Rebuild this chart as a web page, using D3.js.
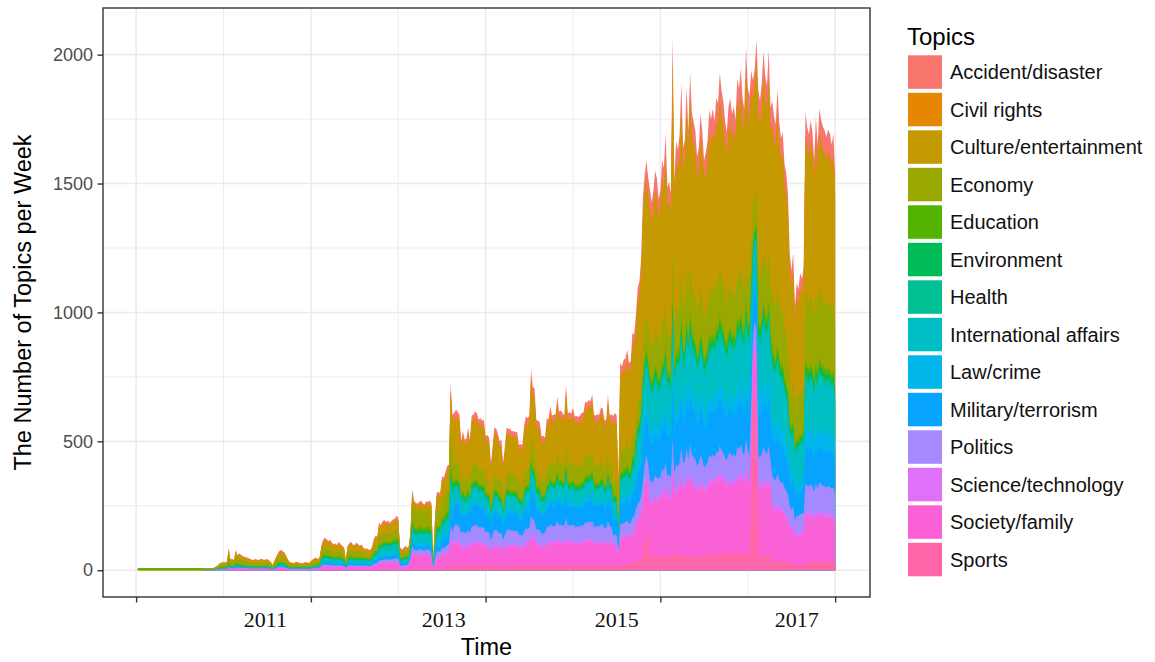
<!DOCTYPE html>
<html>
<head>
<meta charset="utf-8">
<script src="https://d3js.org/d3.v7.min.js"></script>
<style>
  html, body { margin: 0; padding: 0; background: #ffffff; }
  svg { display: block; font-family: "Liberation Sans", Arial, sans-serif; }
</style>
</head>
<body>
<svg id="chart" width="1155" height="662"></svg>
<script>
// ---- Topics (legend order; first topic is stacked on top) ----
const topics = [
  "Accident/disaster", "Civil rights", "Culture/entertainment", "Economy",
  "Education", "Environment", "Health", "International affairs",
  "Law/crime", "Military/terrorism", "Politics", "Science/technology",
  "Society/family", "Sports"
];
const topicColors = [
  "#F8766D", "#E58700", "#C49A00", "#99A800",
  "#53B400", "#00BC56", "#00C094", "#00BFC4",
  "#00B6EB", "#06A4FF", "#A58AFF", "#DF70F8",
  "#FB61D7", "#FF66A8"
];

// ---- Weekly number of topics (all topics together), weeks 1..400 ----
const weeklyTotal = [
  8,8,8,8,8,8,8,8,8,8, 8,8,8,8,8,8,8,8,8,8, 8,8,8,8,8,8,8,8,8,8,
  8,8,8,8,8,8,8,8,8,8, 8,8,8,8,
  12,15,20,28,30,
  32,30,34,85,42,45,40,78,58,66,
  60,55,52,50,48,45,42,40,44,42,
  40,43,45,40,42,44,38,34,20,35,
  50,65,75,78,74,68,55,40,32,30,
  28,31,33,30,28,26,30,32,30,28,
  35,42,46,48,44,50,95,118,125,120,
  112,118,108,100,105,98,110,102,95,88,
  40,95,105,110,100,98,108,102,95,100,
  88,82,85,80,78,90,120,135,130,185,
  175,190,195,188,192,185,190,198,200,210,
  205,90,80,85,95,88,92,150,313,270,
  262,258,265,270,260,255,268,265,270,260,
  30,200,300,305,298,365,360,380,405,410,
  727,603,610,622,615,603,500,540,507,510,
  553,505,600,603,616,610,584,590,580,584,
  519,525,515,410,480,553,550,530,500,505,
  416,480,553,550,548,538,540,535,538,487,
  490,485,560,596,590,598,778,712,705,584,
  580,575,519,522,515,590,585,636,600,603,
  605,674,616,620,610,600,719,610,612,608,
  630,596,598,594,600,610,612,655,650,660,
  655,683,603,600,605,602,630,628,584,580,
  680,600,605,598,610,600,340,805,790,816,
  820,855,805,810,920,915,
  990,1095,1120,1211,1447,1530,1591,1524,1480,1428,1470,1550,1520,1440,
  1470,1590,1560,1694,1486,1505,1460,2077,1512,1667,
  1630,1690,1892,1640,1667,1873,1706,1930,1776,1740,
  1706,1603,1640,1772,1700,1590,1620,1667,1785,1750,
  1790,1740,1834,1810,1930,1860,1820,1745,1700,1800,
  1830,1770,1800,1745,1907,1870,1946,1834,1790,2027,
  1873,1840,1938,1900,1945,2058,1866,1820,1890,2012,
  1918,1880,2017,1793,1820,1762,1730,1866,1740,1676,
  1700,1578,1540,1462,1230,1164,1230,1021,1114,1090,
  1153,1130,1176,1776,1720,1690,1745,1700,1590,1758,
  1650,1790,1745,1720,1706,1680,1710,1693,1650,1693,
  1540
];

// ---- Share of each topic (percent) per 13-week block, blocks 0..30 ----
const blockWeeks = 13;
const shareAccident = [0,0,0, 5, 6,6,6,5, 5,5,5,5, 3,4, 4,4,4,5,4,4,4, 5, 5,5,5,5,5,5, 5, 5,5];
const shareCivil    = [0,0,0, 2, 3,3,4,4, 2,2,1,1, 1,1, 1,1,1,1,1,1,1, 1, .5,.5,.5,.5,.5,.5, .5, .5,.5];
const shareCulture  = [0,0,0, 15, 22,20,22,20, 22,22,20,19, 8,18, 28,29,27,29,28,28,29, 37, 34,33,32,33,34,33, 35, 33,33];
const shareEconomy  = [0,0,0, 30, 32,33,28,28, 22,22,18,17, 25,20, 11,10,12,11,11,12,11, 10, 9,10,10,10,9,10, 12, 15,15];
const shareEducation = [100,100,100, 20, 5,5,5,5, 4,4,4,4, 5,4, 2,2,2,2,2,2,2, 2, 1.3,1.3,1.3,1.3,1.3,1.3, 1.3, 1.2,1.2];
const shareEnvironment = [0,0,0, 3, 3,3,3,3, 3,3,3,3, 3,2, 1.5,1.5,1.5,1.5,1.5,1.5,1.5, 1.5, 1.2,1.2,1.2,1.2,1.2,1.2, 1.2, 1.2,1.2];
const shareHealth   = [0,0,0, 2, 2,2,2,2, 3,3,3,3, 3,3, 1.5,1.5,1.5,1.5,1.5,1.5,1.5, 1.5, 1.3,1.3,1.3,1.3,1.3,1.3, 1.3, 1.2,1.2];
const shareInternational = [0,0,0, 6, 7,8,9,10, 13,13,15,15, 12,11, 8,8,9,8,8,8,8, 8, 10,9,9,9.5,10,11, 11, 11,11];
const shareLaw      = [0,0,0, 2, 2,2,2,3, 3,3,4,4, 5,5, 3,3,3,3,3,3,3, 3, 3.5,3.5,3.5,3.5,3.5,4, 4, 4,4];
const shareMilitary = [0,0,0, 2, 3,3,3,3, 5,5,6,7, 5,8, 13,13,12,13,13,12,13, 10, 10,10,10,9.5,9,9, 8, 8,8];
const sharePolitics = [0,0,0, 2, 2,2,2,3, 4,4,5,6, 7,7, 10,10,10,9,10,10,10, 6, 5,5,5.5,5,5.5,6, 6, 6,6];
const shareScience  = [0,0,0, 1, 1,1,1,1, 1,1,1,1, 1,1, 2,2,2,2,2,2,2, 1, 1,1,1,1,1,1, 1, 1,1];
const shareSociety  = [0,0,0, 9, 11,11,12,12, 12,12,14,14, 20,14, 14,14,14,14,14,14,14, 13, 14,15,15.5,15.5,15,14, 11, 10,10];
const shareSports   = [0,0,0, 1, 1,1,1,1, 1,1,1,1, 2,2, 3,3,3,3,3,3,3, 3, 3.5,3.5,3,3.5,3.5,3, 2, 1.9,1.9];

// ---- Weeks with an unusual number of sports topics ----
const sportsPeakWeeks  = [291, 292, 293, 352, 353, 354, 355];
const sportsPeakValues = [110, 145, 120, 300, 640, 700, 620];

// ---- Axis labels ----
const xTickWeeks = [0, 100, 200, 300, 400];
const yearLabels = ["2011", "2013", "2015", "2017"];
const yearLabelWeeks = [74, 176, 275, 378];
const yTicks = [0, 500, 1000, 1500, 2000];

// ---- Build weekly table per topic ----
const shareTable = [
  shareAccident, shareCivil, shareCulture, shareEconomy, shareEducation,
  shareEnvironment, shareHealth, shareInternational, shareLaw, shareMilitary,
  sharePolitics, shareScience, shareSociety, shareSports
];
const nBlocks = shareAccident.length;
const sportsIdx = topics.indexOf("Sports");

const rows = weeklyTotal.map((total, i) => {
  const week = i + 1;
  const b = Math.min(Math.floor(week / blockWeeks), nBlocks - 1);
  const shares = shareTable.map(s => s[b]);
  const row = { week };
  const peak = sportsPeakWeeks.indexOf(week);
  if (peak >= 0) {
    const sportsVal = sportsPeakValues[peak];
    const restShare = d3.sum(shares) - shares[sportsIdx];
    topics.forEach((t, k) => {
      row[t] = k === sportsIdx ? sportsVal : (total - sportsVal) * shares[k] / restShare;
    });
  } else {
    const sum = d3.sum(shares);
    topics.forEach((t, k) => { row[t] = total * shares[k] / sum; });
  }
  return row;
});

// ---- Layout ----
const svg = d3.select("#chart");
const panel = { left: 103, right: 870, top: 8, bottom: 597 };

const wMin = 1, wMax = weeklyTotal.length;
const wPad = (wMax - wMin) * 0.05;
const x = d3.scaleLinear()
  .domain([wMin - wPad, wMax + wPad])
  .range([panel.left, panel.right]);

const yMax = d3.max(weeklyTotal);
const y = d3.scaleLinear()
  .domain([-yMax * 0.05, yMax * 1.05])
  .range([panel.bottom, panel.top]);

// panel background
svg.append("rect")
  .attr("x", panel.left).attr("y", panel.top)
  .attr("width", panel.right - panel.left).attr("height", panel.bottom - panel.top)
  .attr("fill", "#ffffff");

// grid lines
const gridColor = "#EBEBEB";
const xMinor = xTickWeeks.slice(0, -1).map((v, i) => (v + xTickWeeks[i + 1]) / 2);
const yMinor = yTicks.slice(0, -1).map((v, i) => (v + yTicks[i + 1]) / 2);
const grid = svg.append("g");
grid.selectAll(".xminor").data(xMinor).join("line")
  .attr("x1", d => x(d)).attr("x2", d => x(d))
  .attr("y1", panel.top).attr("y2", panel.bottom)
  .attr("stroke", gridColor).attr("stroke-width", 0.9);
grid.selectAll(".yminor").data(yMinor).join("line")
  .attr("y1", d => y(d)).attr("y2", d => y(d))
  .attr("x1", panel.left).attr("x2", panel.right)
  .attr("stroke", gridColor).attr("stroke-width", 0.9);
grid.selectAll(".xmajor").data(xTickWeeks).join("line")
  .attr("x1", d => x(d)).attr("x2", d => x(d))
  .attr("y1", panel.top).attr("y2", panel.bottom)
  .attr("stroke", gridColor).attr("stroke-width", 1.6);
grid.selectAll(".ymajor").data(yTicks).join("line")
  .attr("y1", d => y(d)).attr("y2", d => y(d))
  .attr("x1", panel.left).attr("x2", panel.right)
  .attr("stroke", gridColor).attr("stroke-width", 1.6);

// stacked areas (Sports at the bottom, Accident/disaster on top)
const stackKeys = topics.slice().reverse();
const series = d3.stack().keys(stackKeys)(rows);
const colorOf = d3.scaleOrdinal().domain(topics).range(topicColors);

svg.append("clipPath").attr("id", "panel-clip")
  .append("rect")
  .attr("x", panel.left).attr("y", panel.top)
  .attr("width", panel.right - panel.left).attr("height", panel.bottom - panel.top);

// Each layer is filled from the zero line up to its cumulative top and painted
// from the top layer downwards, so the next layer covers the lower part; this
// leaves no anti-aliasing seams between neighbouring layers.
const cumulativeArea = d3.area()
  .x(d => x(d.data.week))
  .y0(y(0))
  .y1(d => y(d[1]));

svg.append("g").attr("clip-path", "url(#panel-clip)")
  .selectAll("path").data(series.slice().reverse()).join("path")
  .attr("d", cumulativeArea)
  .attr("fill", d => colorOf(d.key));

// panel border
svg.append("rect")
  .attr("x", panel.left).attr("y", panel.top)
  .attr("width", panel.right - panel.left).attr("height", panel.bottom - panel.top)
  .attr("fill", "none").attr("stroke", "#333333").attr("stroke-width", 1.4);

// x axis ticks (unlabelled) and year labels
const xAxis = d3.axisBottom(x).tickValues(xTickWeeks).tickFormat("").tickSize(5.5).tickSizeOuter(0);
const gx = svg.append("g").attr("transform", `translate(0,${panel.bottom})`).call(xAxis);
gx.select(".domain").remove();
gx.selectAll(".tick line").attr("stroke", "#333333").attr("stroke-width", 1.4);

svg.append("g").selectAll("text").data(yearLabels).join("text")
  .attr("x", (d, i) => x(yearLabelWeeks[i]))
  .attr("y", 627)
  .attr("text-anchor", "middle")
  .attr("font-family", "'Liberation Serif', 'Times New Roman', serif")
  .attr("font-size", 22)
  .attr("fill", "#111111")
  .text(d => d);

// y axis
const yAxis = d3.axisLeft(y).tickValues(yTicks).tickFormat(d3.format("d"))
  .tickSize(5.5).tickSizeOuter(0).tickPadding(4.5);
const gy = svg.append("g").attr("transform", `translate(${panel.left},0)`).call(yAxis);
gy.select(".domain").remove();
gy.selectAll(".tick line").attr("stroke", "#333333").attr("stroke-width", 1.4);
gy.selectAll(".tick text")
  .attr("font-family", "'Liberation Sans', Arial, sans-serif")
  .attr("font-size", 18).attr("fill", "#4D4D4D");

// axis titles
svg.append("text")
  .attr("x", (panel.left + panel.right) / 2).attr("y", 655)
  .attr("text-anchor", "middle").attr("font-size", 23.5).attr("fill", "#000")
  .text("Time");
svg.append("text")
  .attr("transform", `translate(31,${(panel.top + panel.bottom) / 2}) rotate(-90)`)
  .attr("text-anchor", "middle").attr("font-size", 23.5).attr("fill", "#000")
  .text("The Number of Topics per Week");

// legend
const legend = svg.append("g");
legend.append("text")
  .attr("x", 907).attr("y", 44.7)
  .attr("font-size", 24).attr("fill", "#000")
  .text("Topics");
const keyTop = 55.3, keyStep = 37.5, keySize = 34;
const keys = legend.selectAll("g.key").data(topics).join("g")
  .attr("transform", (d, i) => `translate(908,${keyTop + i * keyStep})`);
keys.append("rect")
  .attr("width", keySize).attr("height", keySize - 0.5)
  .attr("fill", d => colorOf(d));
keys.append("text")
  .attr("x", 42).attr("y", keySize / 2 + 7)
  .attr("font-size", 20).attr("fill", "#111")
  .text(d => d);
</script>
</body>
</html>
